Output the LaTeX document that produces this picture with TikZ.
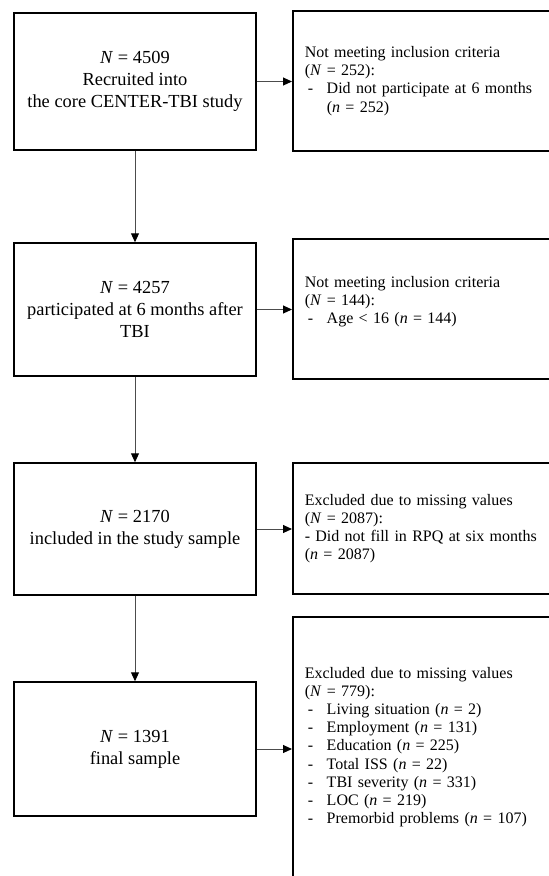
\documentclass[tikz,border=0pt]{standalone}
\usepackage{fontspec}
\setmainfont{Liberation Serif}
\usetikzlibrary{arrows.meta}
\newcommand{\dashitem}[1]{\makebox[22pt][l]{\hspace{3pt}-}#1}

\begin{document}
\begin{tikzpicture}[x=1pt,y=-1pt,
  stagebox/.style={draw,line width=1.5pt,minimum width=242pt,align=center,inner sep=0pt,
    font=\fontsize{18.4}{21.8}\selectfont},
  excludebox/.style={draw,line width=1.5pt,anchor=west,text width=252pt,inner xsep=12pt,
    inner ysep=0pt,align=left,font=\fontsize{16}{18.2}\selectfont},
  flow/.style={draw=black!70,line width=1pt,-{Triangle[length=9pt,width=8pt,color=black]}}]
\useasboundingbox (0,0) rectangle (549,876);
\clip (0,0) rectangle (549,876);
\node[stagebox,minimum height=137pt] (recruited) at (135,81.5)
  {\textit{N} = 4509\\ Recruited into\\ the core CENTER-TBI study};
\node[stagebox,minimum height=133pt] (sixmonths) at (135,309.5)
  {\textit{N} = 4257\\ participated at 6 months after\\ TBI};
\node[stagebox,minimum height=132pt] (included) at (135,529)
  {\textit{N} = 2170\\ included in the study sample};
\node[stagebox,minimum height=134pt] (final) at (135,749)
  {\textit{N} = 1391\\ final sample};
\node[excludebox,minimum height=140pt] (exclA) at (292,81)
  {Not meeting inclusion criteria\\ (\textit{N} = 252):\\
   \dashitem{Did not participate at 6 months}\\ \hspace{22pt}(\textit{n} = 252)};
\node[excludebox,minimum height=140pt] (exclB) at (292,309)
  {Not meeting inclusion criteria\\ (\textit{N} = 144):\\
   \dashitem{Age < 16 (\textit{n} = 144)}\\ \mbox{}};
\node[excludebox,minimum height=131pt] (exclC) at (292,528.5)
  {Excluded due to missing values\\ (\textit{N} = 2087):\\
   - Did not fill in RPQ at six months\\ (\textit{n} = 2087)};
\node[excludebox,minimum height=275pt] (exclD) at (292,754.5)
  {Excluded due to missing values\\ (\textit{N} = 779):\\
   \dashitem{Living situation (\textit{n} = 2)}\\
   \dashitem{Employment (\textit{n} = 131)}\\
   \dashitem{Education (\textit{n} = 225)}\\
   \dashitem{Total ISS (\textit{n} = 22)}\\
   \dashitem{TBI severity (\textit{n} = 331)}\\
   \dashitem{LOC (\textit{n} = 219)}\\
   \dashitem{Premorbid problems (\textit{n} = 107)}\\ \mbox{}};
\draw[flow] (recruited) -- (sixmonths);
\draw[flow] (sixmonths) -- (included);
\draw[flow] (included) -- (final);
\draw[flow] (recruited.east) -- (recruited.east -| exclA.west);
\draw[flow] (sixmonths.east) -- (sixmonths.east -| exclB.west);
\draw[flow] (included.east) -- (included.east -| exclC.west);
\draw[flow] (final.east) -- (final.east -| exclD.west);
\end{tikzpicture}
\end{document}
